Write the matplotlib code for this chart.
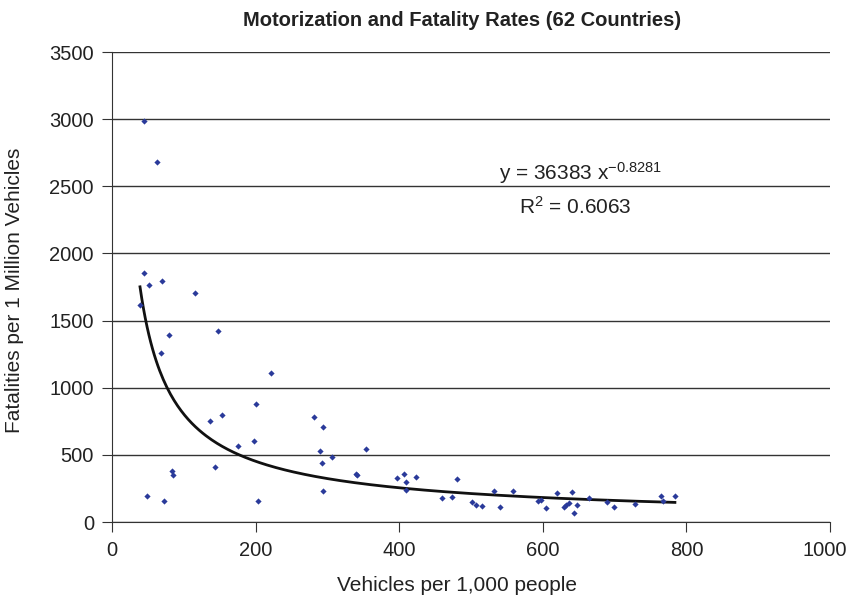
import matplotlib.pyplot as plt
import numpy as np
from matplotlib.transforms import ScaledTranslation

plt.rcParams["font.family"] = ["Liberation Sans", "DejaVu Sans"]
plt.rcParams["mathtext.default"] = "regular"

# vehicles per 1,000 people
vehicles = [
    44, 62, 44, 51, 70, 115, 39, 80, 147, 68, 221,
    200, 153, 137, 198, 175, 143, 83, 85, 49, 73, 204,
    281, 294, 290, 354, 306, 293, 340, 341, 294, 397, 406, 409, 409, 424, 480, 460, 473,
    501, 507, 515, 532, 540, 559, 593, 597, 605, 620, 630, 633, 636, 641, 644, 647,
    665, 689, 699, 729,
    764, 768, 784,
]
# fatalities per 1 million vehicles
fatalities = [
    2986, 2683, 1855, 1766, 1795, 1706, 1619, 1396, 1426, 1257, 1109,
    878, 798, 751, 605, 568, 406, 377, 352, 191, 153, 153,
    783, 707, 530, 545, 486, 441, 354, 347, 228, 324, 359, 295, 240, 332, 317, 176, 183,
    146, 129, 116, 228, 109, 228, 153, 161, 101, 213, 114, 126, 141, 220, 64, 124,
    176, 146, 109, 136,
    191, 153, 191,
]
fit_a = 36383
fit_b = -0.8281
r2 = 0.6063

x = np.array(vehicles, dtype=float)
y = np.array(fatalities, dtype=float)

fig = plt.figure(figsize=(8.5, 5.98), dpi=100)
ax = fig.add_axes([112 / 850, 1 - 522 / 598, 718 / 850, 470 / 598])

ax.scatter(x, y, marker="D", s=10, color="#2a3a9a", zorder=3, linewidths=0)

xf = np.linspace(x.min(), x.max(), 300)
ax.plot(xf, fit_a * xf ** fit_b, color="#111111", lw=2, zorder=2)

ax.set_xlim(0, 1000)
ax.set_ylim(0, 3500)
ax.set_xticks(np.arange(0, 1001, 200))
ax.set_yticks(np.arange(0, 3501, 500))
ax.yaxis.grid(True, color="#333333", lw=1)
ax.set_axisbelow(True)
for s in ["top", "right"]:
    ax.spines[s].set_visible(False)
ax.spines["left"].set_color("#333333")
ax.spines["bottom"].set_color("#333333")
ax.tick_params(axis="both", direction="out", length=7.5, color="#333333",
               labelsize=14.5, labelcolor="#222222")
ax.tick_params(axis="y", pad=5.5)
ax.tick_params(axis="x", pad=6)

# keep the "1000" label inside the canvas
last = ax.get_xticklabels()[-1]
last.set_transform(last.get_transform() + ScaledTranslation(-0.05, 0, fig.dpi_scale_trans))

fig.text(462 / 850, 1 - 20 / 598, "Motorization and Fatality Rates (62 Countries)",
         fontsize=14.5, fontweight="bold", ha="center", va="center", color="#222222")
ax.set_xlabel("Vehicles per 1,000 people", fontsize=15, color="#222222")
ax.xaxis.set_label_coords(0.48, -0.115)
ax.set_ylabel("Fatalities per 1 Million Vehicles", fontsize=15, color="#222222")
ax.yaxis.set_label_coords(-0.122, 0.494)

ax.text(652, 2600, "y = 36383 x$^{\u22120.8281}$", fontsize=15, ha="center", va="center",
        color="#222222")
ax.text(645, 2350, "R$^{2}$ = 0.6063", fontsize=15, ha="center", va="center",
        color="#222222")

fig.savefig("out.png", dpi=100)
